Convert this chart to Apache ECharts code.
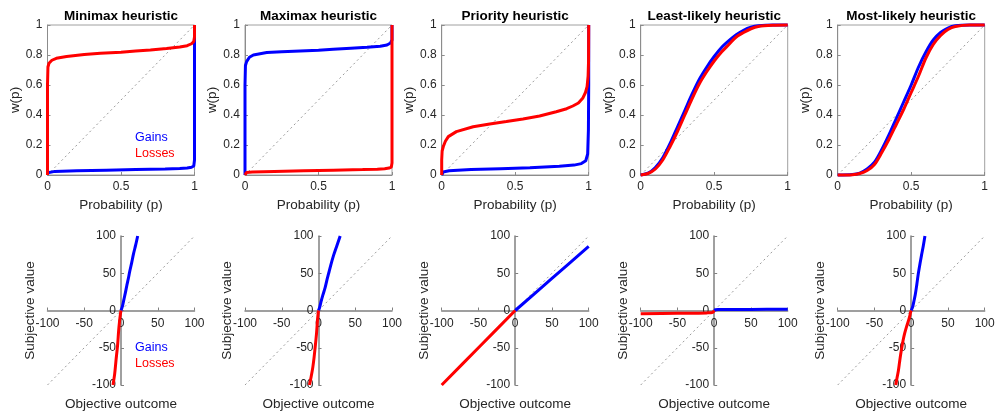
<!DOCTYPE html>
<html>
<head>
<meta charset="utf-8">
<script src="https://cdn.jsdelivr.net/npm/echarts@6/dist/echarts.min.js"></script>
<style>
html,body{margin:0;padding:0;background:#fff;}
#chart{width:995px;height:413px;}
</style>
</head>
<body>
<div id="chart"></div>
<script>
// ---------- DATA ----------
const titles = ['Minimax heuristic', 'Maximax heuristic', 'Priority heuristic', 'Least-likely heuristic', 'Most-likely heuristic'];
const probTicks = { min: 0, max: 1, xStep: 0.5, yStep: 0.2 };
const outcomeTicks = { min: -100, max: 100, step: 50 };
const legendLabels = ['Gains', 'Losses'];

// Probability weighting functions w(p): [p, w]
const minimaxGainsW = [[0,0],[0.002,0.015],[0.01,0.02],[0.05,0.024],[0.2,0.028],[0.4,0.032],[0.6,0.036],[0.8,0.04],[0.9,0.043],[0.95,0.047],[0.98,0.052],[0.995,0.06],[1,0.1],[1,1]];
const minimaxLossesW = [[0,0],[0,0.6],[0.003,0.72],[0.01,0.745],[0.03,0.765],[0.06,0.778],[0.13,0.79],[0.25,0.803],[0.36,0.811],[0.5,0.818],[0.6,0.826],[0.7,0.834],[0.81,0.843],[0.9,0.853],[0.95,0.862],[0.98,0.875],[0.995,0.89],[1,0.92],[1,1]];

const maximaxGainsW = [[0,0],[0,0.6],[0.003,0.73],[0.011,0.756],[0.03,0.785],[0.057,0.8],[0.148,0.816],[0.25,0.822],[0.375,0.827],[0.5,0.832],[0.6,0.838],[0.72,0.845],[0.83,0.851],[0.92,0.858],[0.966,0.867],[0.99,0.88],[1,0.9],[1,1]];
const maximaxLossesW = [[0,0],[0.002,0.012],[0.01,0.017],[0.05,0.02],[0.2,0.024],[0.4,0.028],[0.6,0.032],[0.8,0.036],[0.9,0.039],[0.95,0.042],[0.98,0.046],[0.995,0.052],[1,0.08],[1,1]];

const priorityGainsW = [[0,0],[0.003,0.012],[0.01,0.02],[0.05,0.028],[0.2,0.036],[0.4,0.042],[0.6,0.048],[0.8,0.058],[0.9,0.066],[0.95,0.076],[0.98,0.095],[0.993,0.14],[0.998,0.3],[1,0.6],[1,1]];
const priorityLossesW = [[0,0],[0,0.1],[0.003,0.16],[0.011,0.19],[0.025,0.225],[0.045,0.256],[0.1,0.289],[0.214,0.322],[0.327,0.34],[0.44,0.356],[0.553,0.373],[0.666,0.393],[0.779,0.422],[0.85,0.442],[0.892,0.46],[0.93,0.48],[0.959,0.511],[0.978,0.55],[0.989,0.589],[0.996,0.66],[0.999,0.76],[1,1]];

const leastLikelyGainsW = [[0,0],[0.05,0.012],[0.1,0.05],[0.15,0.115],[0.2,0.21],[0.25,0.32],[0.3,0.43],[0.35,0.54],[0.4,0.64],[0.45,0.72],[0.5,0.79],[0.55,0.85],[0.6,0.895],[0.65,0.935],[0.7,0.965],[0.75,0.985],[0.8,0.995],[0.9,1],[1,1]];
const leastLikelyLossesW = [[0,0],[0.05,0.01],[0.1,0.04],[0.15,0.1],[0.2,0.19],[0.25,0.29],[0.3,0.4],[0.35,0.51],[0.4,0.61],[0.45,0.69],[0.5,0.76],[0.55,0.82],[0.6,0.87],[0.65,0.92],[0.7,0.95],[0.75,0.975],[0.8,0.99],[0.9,0.998],[1,1]];

const mostLikelyGainsW = [[0,0],[0.1,0.003],[0.15,0.013],[0.2,0.04],[0.25,0.085],[0.3,0.17],[0.35,0.27],[0.4,0.38],[0.45,0.49],[0.5,0.6],[0.55,0.72],[0.6,0.82],[0.65,0.9],[0.7,0.95],[0.75,0.98],[0.8,0.995],[0.9,1],[1,1]];
const mostLikelyLossesW = [[0,0],[0.1,0.002],[0.15,0.01],[0.2,0.03],[0.25,0.07],[0.3,0.15],[0.35,0.24],[0.4,0.34],[0.45,0.44],[0.5,0.55],[0.55,0.66],[0.6,0.78],[0.65,0.87],[0.7,0.93],[0.75,0.97],[0.8,0.99],[0.9,1],[1,1]];

// Value functions: [objective outcome, subjective value]
const minimaxGainsV = [[0,0],[2,6],[4,15],[6,24],[8,34],[10,43],[12,53],[14.5,64],[17,76],[20,88],[22.7,100]];
const minimaxLossesV = [[0,0],[-0.8,-5],[-1.8,-13],[-3.2,-27],[-4.5,-45],[-6.8,-67],[-8.6,-85],[-10.9,-100]];

const maximaxGainsV = [[0,0],[1.5,4],[3.2,11],[6,21],[9.1,31],[11.5,41],[13.6,49],[17,62],[20.5,74],[25,87],[29.5,100]];
const maximaxLossesV = [[0,0],[-0.6,-5],[-1.4,-13],[-2.7,-31],[-4.5,-49],[-6,-63],[-7.7,-76],[-10,-89],[-12.3,-100]];

const priorityGainsV = [[0,0],[50,43],[100,86]];
const priorityLossesV = [[-100,-100],[-50,-50],[0,0]];

const leastLikelyGainsV = [[0,0],[2,1],[5,1.3],[50,1.5],[100,1.6]];
const leastLikelyLossesV = [[-100,-4.5],[-50,-3.8],[-10,-3.2],[-2,-2.5],[0,0]];

const mostLikelyGainsV = [[0,0],[2,5],[3.6,12],[5.5,21],[7.5,34],[9.6,49],[12,63],[14,74],[16.5,87],[18.7,100]];
const mostLikelyLossesV = [[0,0],[-1,-3],[-1.8,-7],[-3.5,-13],[-6.4,-22],[-9,-31],[-11,-40],[-12.8,-50],[-14.2,-58],[-15.8,-69],[-17.4,-80.5],[-19.2,-90],[-21,-100]];

const diagTop = [[0,0],[1,1]];
const diagBottom = [[-100,-100],[100,100]];

const gainsW = [minimaxGainsW, maximaxGainsW, priorityGainsW, leastLikelyGainsW, mostLikelyGainsW];
const lossesW = [minimaxLossesW, maximaxLossesW, priorityLossesW, leastLikelyLossesW, mostLikelyLossesW];
const gainsV = [minimaxGainsV, maximaxGainsV, priorityGainsV, leastLikelyGainsV, mostLikelyGainsV];
const lossesV = [minimaxLossesV, maximaxLossesV, priorityLossesV, leastLikelyLossesV, mostLikelyLossesV];
const smoothTop = [false, false, false, true, true];

// ---------- LAYOUT / STYLE ----------
const LEFTS = [47.5, 245, 441.7, 640.7, 837.7];
const W = 147;
const TOP1 = 25, H1 = 150;
const TOP2 = 236, H2 = 149;
const BLUE = '#0000ff', RED = '#ff0000';
const FONT = '"Liberation Sans", Arial, Helvetica, sans-serif';
const TXT = '#262626';
const AXC = '#8c8c8c';

const grid = [], xAxis = [], yAxis = [], series = [], graphic = [];

for (let i = 0; i < 5; i++) {
  grid.push({ left: LEFTS[i], top: TOP1, width: W, height: H1, show: true, borderColor: '#a0a0a0', borderWidth: 1, backgroundColor: 'transparent', containLabel: false, outerBoundsMode: 'none' });
  grid.push({ left: LEFTS[i], top: TOP2, width: W, height: H2, show: false, containLabel: false, outerBoundsMode: 'none' });
}

for (let i = 0; i < 5; i++) {
  const gT = 2 * i, gB = 2 * i + 1;
  xAxis.push({
    gridIndex: gT, type: 'value', min: probTicks.min, max: probTicks.max, interval: probTicks.xStep,
    axisLine: { show: true, onZero: false, lineStyle: { color: AXC, width: 1 } },
    axisTick: { show: true, inside: true, length: 3, lineStyle: { color: AXC } },
    axisLabel: { color: TXT, fontSize: 12, fontFamily: FONT, margin: 6 },
    splitLine: { show: false },
    name: 'Probability (p)', nameLocation: 'middle', nameGap: 23,
    nameTextStyle: { color: TXT, fontSize: 13.5, fontFamily: FONT }
  });
  yAxis.push({
    gridIndex: gT, type: 'value', min: probTicks.min, max: probTicks.max, interval: probTicks.yStep,
    axisLine: { show: true, onZero: false, lineStyle: { color: AXC, width: 1 } },
    axisTick: { show: true, inside: true, length: 3, lineStyle: { color: AXC } },
    axisLabel: { color: TXT, fontSize: 12, fontFamily: FONT, margin: 5 },
    splitLine: { show: false },
    name: 'w(p)', nameLocation: 'middle', nameGap: 17, nameRotate: 90,
    nameTextStyle: { color: TXT, fontSize: 13.5, fontFamily: FONT }
  });
  // bottom row: axes crossing at the origin (ranges are symmetric, so centre == 0)
  xAxis.push({
    gridIndex: gB, type: 'value', min: outcomeTicks.min, max: outcomeTicks.max, interval: outcomeTicks.step,
    position: 'bottom', offset: -H2 / 2,
    axisLine: { show: true, onZero: false, lineStyle: { color: '#808080', width: 1.5 } },
    axisTick: { show: true, inside: true, length: 3, lineStyle: { color: '#808080' } },
    axisLabel: { color: TXT, fontSize: 12, fontFamily: FONT, margin: 7 },
    splitLine: { show: false },
    name: 'Objective outcome', nameLocation: 'middle', nameGap: 87,
    nameTextStyle: { color: TXT, fontSize: 13.5, fontFamily: FONT }
  });
  yAxis.push({
    gridIndex: gB, type: 'value', min: outcomeTicks.min, max: outcomeTicks.max, interval: outcomeTicks.step,
    position: 'left', offset: -W / 2,
    axisLine: { show: true, onZero: false, lineStyle: { color: '#808080', width: 1.5 } },
    axisTick: { show: true, inside: true, length: 3, lineStyle: { color: '#808080' } },
    axisLabel: { color: TXT, fontSize: 12, fontFamily: FONT, margin: 5 },
    splitLine: { show: false },
    name: 'Subjective value', nameLocation: 'middle', nameGap: 84, nameRotate: 90,
    nameTextStyle: { color: TXT, fontSize: 13.5, fontFamily: FONT }
  });

  const dotted = { color: '#9a9a9a', width: 1, type: [2, 3] };
  series.push({ type: 'line', xAxisIndex: gT, yAxisIndex: gT, data: diagTop, showSymbol: false, silent: true, lineStyle: dotted, z: 1 });
  series.push({ type: 'line', xAxisIndex: gT, yAxisIndex: gT, data: gainsW[i], showSymbol: false, clip: false, smooth: smoothTop[i] ? 0.3 : false, lineStyle: { color: BLUE, width: 3 }, z: 2 });
  series.push({ type: 'line', xAxisIndex: gT, yAxisIndex: gT, data: lossesW[i], showSymbol: false, clip: false, smooth: smoothTop[i] ? 0.3 : false, lineStyle: { color: RED, width: 3 }, z: 3 });
  series.push({ type: 'line', xAxisIndex: gB, yAxisIndex: gB, data: diagBottom, showSymbol: false, silent: true, lineStyle: dotted, z: 1 });
  series.push({ type: 'line', xAxisIndex: gB, yAxisIndex: gB, data: gainsV[i], showSymbol: false, clip: false, smooth: 0.3, lineStyle: { color: BLUE, width: 3 }, z: 2 });
  series.push({ type: 'line', xAxisIndex: gB, yAxisIndex: gB, data: lossesV[i], showSymbol: false, clip: false, smooth: 0.3, lineStyle: { color: RED, width: 3 }, z: 3 });

  graphic.push({ type: 'text', x: LEFTS[i] + W / 2, y: 16, style: { text: titles[i], fill: '#000', font: 'bold 13.5px ' + FONT, textAlign: 'center', textVerticalAlign: 'middle' } });
}

// legend texts (first column only)
graphic.push({ type: 'text', x: 135, y: 138, style: { text: legendLabels[0], fill: BLUE, font: '12.5px ' + FONT, textAlign: 'left', textVerticalAlign: 'middle' } });
graphic.push({ type: 'text', x: 135, y: 154, style: { text: legendLabels[1], fill: RED, font: '12.5px ' + FONT, textAlign: 'left', textVerticalAlign: 'middle' } });
graphic.push({ type: 'text', x: 135, y: 348, style: { text: legendLabels[0], fill: BLUE, font: '12.5px ' + FONT, textAlign: 'left', textVerticalAlign: 'middle' } });
graphic.push({ type: 'text', x: 135, y: 364, style: { text: legendLabels[1], fill: RED, font: '12.5px ' + FONT, textAlign: 'left', textVerticalAlign: 'middle' } });

const chart = echarts.init(document.getElementById('chart'), null, { renderer: 'canvas' });
chart.setOption({
  animation: false,
  backgroundColor: '#fff',
  textStyle: { fontFamily: FONT },
  grid, xAxis, yAxis, series, graphic
});
</script>
</body>
</html>
